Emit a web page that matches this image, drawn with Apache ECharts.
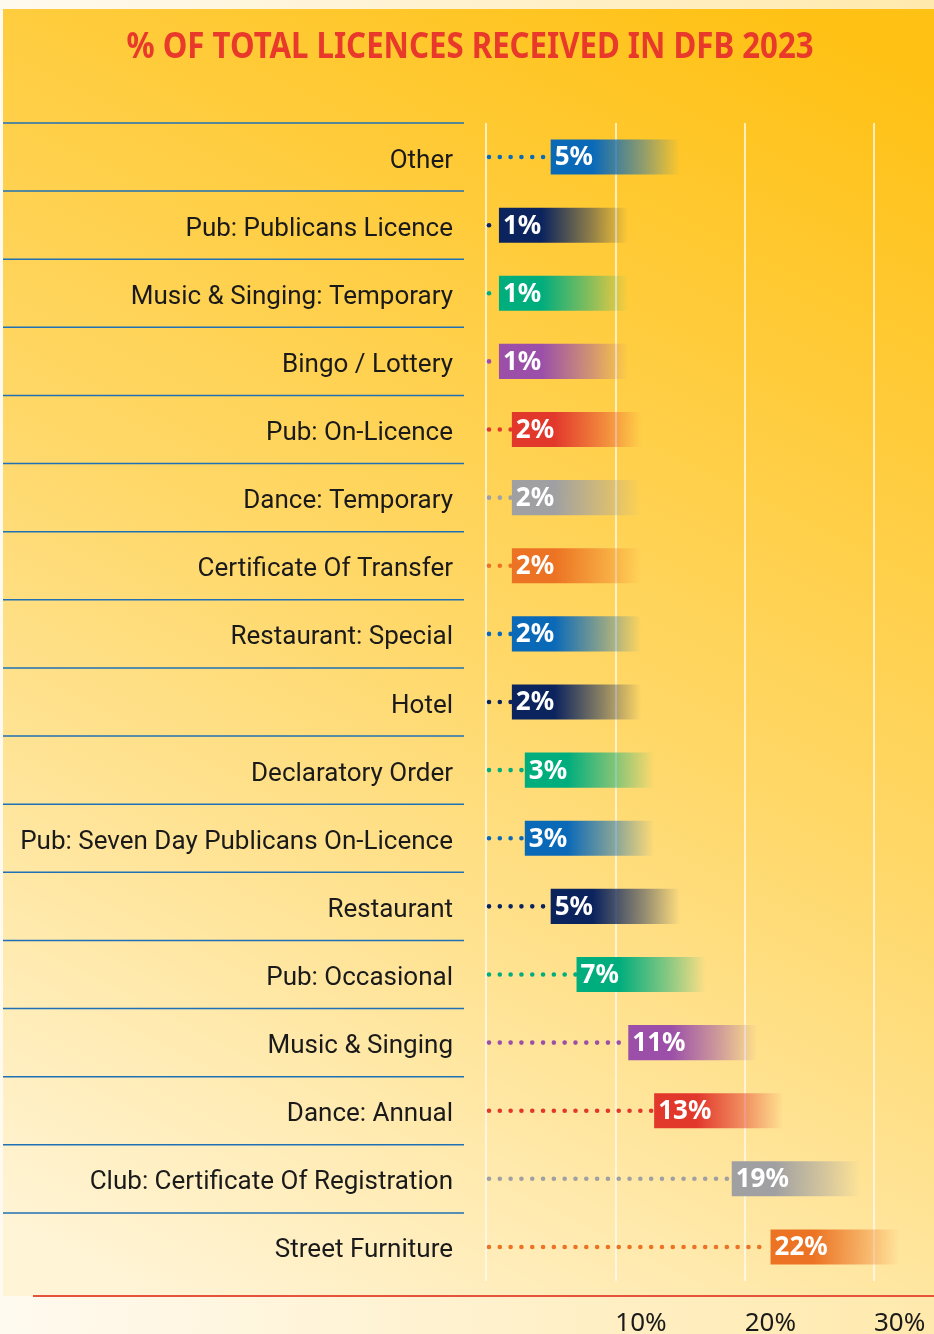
<!DOCTYPE html>
<html>
<head>
<meta charset="utf-8">
<title>% of total licences received in DFB 2023</title>
<script src="https://cdn.jsdelivr.net/npm/echarts@6/dist/echarts.min.js"></script>
<style>
  html, body { margin: 0; padding: 0; }
  #chart { width: 934px; height: 1334px; }
</style>
</head>
<body>
<div id="chart"></div>
<script>
// Licence types, top to bottom
const categories = [
  'Other',
  'Pub: Publicans Licence',
  'Music & Singing: Temporary',
  'Bingo / Lottery',
  'Pub: On-Licence',
  'Dance: Temporary',
  'Certificate Of Transfer',
  'Restaurant: Special',
  'Hotel',
  'Declaratory Order',
  'Pub: Seven Day Publicans On-Licence',
  'Restaurant',
  'Pub: Occasional',
  'Music & Singing',
  'Dance: Annual',
  'Club: Certificate Of Registration',
  'Street Furniture'
];

// Share of total licences (%)
const shares = [5, 1, 1, 1, 2, 2, 2, 2, 2, 3, 3, 5, 7, 11, 13, 19, 22];

// Colour family of each row
const colourKeys = [
  'blue', 'navy', 'green', 'purple', 'red', 'grey', 'orange', 'blue', 'navy',
  'green', 'blue', 'navy', 'green', 'purple', 'red', 'grey', 'orange'
];

// Value-axis tick labels
const tickValues = [0, 10, 20, 30];

const titleText = '% OF TOTAL LICENCES RECEIVED IN DFB 2023';

const palette = {
  blue: [11, 106, 184],
  navy: [12, 36, 94],
  green: [0, 173, 125],
  purple: [155, 79, 168],
  red: [226, 56, 44],
  grey: [160, 160, 162],
  orange: [236, 115, 35]
};

function rgba(c, a) { return 'rgba(' + c[0] + ',' + c[1] + ',' + c[2] + ',' + a + ')'; }

const chart = echarts.init(document.getElementById('chart'));

// Length (in axis units) of each fading tag that carries the value label
const TAG_SPAN = 10;

function renderRow(params, api) {
  const v = api.value(0);
  const idx = api.value(1);
  const col = palette[colourKeys[idx]];
  const zero = api.coord([0, idx]);
  const start = api.coord([v, idx]);
  const end = api.coord([v + TAG_SPAN, idx]);
  const band = api.size([0, 1])[1];
  const cy = start[1];
  const h = band * 0.515;
  const top = cy - band / 2;

  const children = [];
  // separator above the row, across the label column
  children.push({
    type: 'line',
    shape: { x1: 3, y1: top, x2: 464, y2: top },
    style: { stroke: '#1f70b4', lineWidth: 1.5 },
    z2: 1
  });
  // dotted leader from zero to the value
  if (start[0] - zero[0] > 5) {
    children.push({
      type: 'line',
      shape: { x1: zero[0] + 3, y1: cy, x2: start[0] - 1, y2: cy },
      style: {
        stroke: rgba(col, 1), lineWidth: 4.6, lineCap: 'round',
        lineDash: [0.01, 10.8]
      },
      z2: 2
    });
  }
  // fading tag starting at the value
  children.push({
    type: 'rect',
    shape: { x: start[0], y: cy - h / 2, width: end[0] - start[0], height: h },
    style: {
      fill: new echarts.graphic.LinearGradient(0, 0, 1, 0, [
        { offset: 0, color: rgba(col, 1) },
        { offset: 0.33, color: rgba(col, 1) },
        { offset: 0.72, color: rgba(col, 0.45) },
        { offset: 1, color: rgba(col, 0) }
      ])
    },
    z2: 3
  });
  children.push({
    type: 'text',
    x: start[0] + 4,
    y: cy + 1,
    style: {
      text: v + '%',
      fill: '#ffffff',
      font: 'bold 26px "Noto Sans", "Open Sans", sans-serif',
      align: 'left',
      verticalAlign: 'middle'
    },
    z2: 4
  });
  return { type: 'group', children: children };
}

chart.setOption({
  animation: false,
  backgroundColor: new echarts.graphic.LinearGradient(0, 0, 1, 0, [
    { offset: 0, color: '#fffaf0' },
    { offset: 1, color: '#ffe9ac' }
  ]),
  graphic: [
    {
      type: 'rect',
      z: -10,
      shape: { x: 3, y: 9, width: 931, height: 1287 },
      style: {
        fill: new echarts.graphic.LinearGradient(0.15, 1, 0.85, 0, [
          { offset: 0, color: '#fff4d6' },
          { offset: 0.5, color: '#ffd869' },
          { offset: 1, color: '#ffc114' }
        ])
      },
      silent: true
    },
    {
      // condensed heading
      type: 'text',
      z: 100,
      x: 470,
      y: 48,
      scaleX: 0.866,
      style: {
        text: titleText,
        fill: '#e8392b',
        font: 'bold 36px "Noto Sans", sans-serif',
        align: 'center',
        verticalAlign: 'middle'
      },
      silent: true
    },
    {
      type: 'line',
      z: 100,
      shape: { x1: 33, y1: 1296, x2: 934, y2: 1296 },
      style: { stroke: '#e4533a', lineWidth: 2 },
      silent: true
    }
  ],
  grid: { left: 486, right: 60, top: 123, bottom: 53, outerBoundsMode: 'none' },
  xAxis: {
    type: 'value',
    min: tickValues[0],
    max: tickValues[tickValues.length - 1],
    interval: tickValues[1] - tickValues[0],
    axisLine: { show: false },
    axisTick: { show: false },
    splitLine: { show: true, lineStyle: { color: '#fffaf0', width: 1.5 } },
    axisLabel: {
      margin: 30,
      align: 'left',
      color: '#1a1a1a',
      fontSize: 26,
      fontFamily: '"Noto Sans", sans-serif',
      formatter: function (val) { return val === 0 ? '' : val + '%'; }
    }
  },
  yAxis: {
    type: 'category',
    inverse: true,
    data: categories,
    axisLine: { show: false },
    axisTick: { show: false },
    splitLine: { show: false },
    axisLabel: {
      margin: 33,
      formatter: function (name) { return '{n|' + name + '}'; },
      rich: {
        n: {
          padding: [8, 0, 0, 0],
          color: '#1a1a1a',
          fontSize: 26,
          fontFamily: 'Roboto, "Noto Sans", sans-serif'
        }
      }
    }
  },
  series: [{
    type: 'custom',
    renderItem: renderRow,
    encode: { x: 0, y: 1 },
    data: shares.map(function (v, i) { return [v, i]; })
  }]
});
</script>
</body>
</html>
